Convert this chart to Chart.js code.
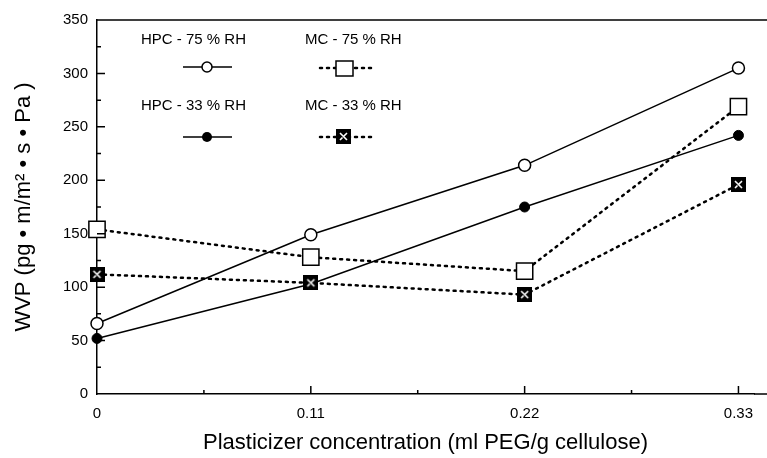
<!DOCTYPE html>
<html lang="en">
<head>
  <meta charset="UTF-8">
  <title>WVP vs plasticizer</title>
  <script src="https://cdn.jsdelivr.net/npm/chart.js"></script>
  <style>
    html, body { margin: 0; padding: 0; background: #fff; }
    #wrap { width: 767px; height: 458px; }
  </style>
</head>
<body>
  <div id="wrap"><canvas id="chart" width="767" height="458"></canvas></div>
  <script>
    // data
    const peg = [0, 0.11, 0.22, 0.33];
    const hpc75 = [66, 149, 214, 305];
    const hpc33 = [52, 103, 175, 242];
    const mc75 = [154, 128, 115, 269];
    const mc33 = [112, 104, 93, 196];
    const xTicks = [0, 0.11, 0.22, 0.33];
    const yTicks = [0, 50, 100, 150, 200, 250, 300, 350];

    const FONT = 'Liberation Sans, Arial, sans-serif';

    // filled square with white marks (MC - 33 % RH)
    function hatchSquare(size) {
      const c = document.createElement('canvas');
      c.width = size; c.height = size;
      const g = c.getContext('2d');
      g.fillStyle = '#000';
      g.fillRect(0, 0, size, size);
      g.strokeStyle = '#fff';
      g.lineWidth = 1.6;
      g.beginPath();
      g.moveTo(4, 4); g.lineTo(size - 4, size - 4);
      g.moveTo(size - 4, 4); g.lineTo(size / 2, size / 2);
      g.moveTo(4, size - 4); g.lineTo(size / 2 - 1, size / 2 + 1);
      g.stroke();
      return c;
    }
    const mcFilled = hatchSquare(15);

    function pts(vals) { return vals.map((v, i) => ({ x: peg[i], y: v })); }

    // ticks drawn inward, top border, and the 2x2 legend
    const frame = {
      id: 'frame',
      afterDraw(chart) {
        const ctx = chart.ctx;
        const x = chart.scales.x, y = chart.scales.y;
        const a = chart.chartArea;
        ctx.save();
        ctx.strokeStyle = '#000';
        ctx.lineWidth = 1.5;
        ctx.beginPath();
        // frame lines run on to the page edge as in the scan
        ctx.moveTo(a.left, a.top); ctx.lineTo(chart.width, a.top);
        ctx.moveTo(a.right, a.bottom); ctx.lineTo(chart.width, a.bottom);
        for (let v = 25; v < 350; v += 25) {
          const py = y.getPixelForValue(v);
          ctx.moveTo(a.left, py); ctx.lineTo(a.left + (v % 50 === 0 ? 8 : 4), py);
        }
        for (let v = 0.055; v < 0.34; v += 0.055) {
          const px = x.getPixelForValue(v);
          const major = Math.abs((v / 0.11) - Math.round(v / 0.11)) < 0.01;
          ctx.moveTo(px, a.bottom); ctx.lineTo(px, a.bottom - (major ? 8 : 4));
        }
        ctx.stroke();

        // legend
        ctx.fillStyle = '#000';
        ctx.font = '15px ' + FONT;
        ctx.textAlign = 'left';
        ctx.textBaseline = 'middle';
        ctx.fillText('HPC - 75 % RH', 141, 40);
        ctx.fillText('MC - 75 % RH', 305, 40);
        ctx.fillText('HPC - 33 % RH', 141, 106);
        ctx.fillText('MC - 33 % RH', 305, 106);

        ctx.lineWidth = 1.5;
        ctx.beginPath();
        ctx.moveTo(183, 67); ctx.lineTo(232, 67);
        ctx.moveTo(183, 137); ctx.lineTo(232, 137);
        ctx.stroke();
        ctx.beginPath();
        ctx.arc(207, 67, 5, 0, Math.PI * 2);
        ctx.fillStyle = '#fff'; ctx.fill(); ctx.stroke();
        ctx.beginPath();
        ctx.arc(207, 137, 5, 0, Math.PI * 2);
        ctx.fillStyle = '#000'; ctx.fill();

        ctx.setLineDash([2, 5]);
        ctx.lineCap = 'round';
        ctx.lineWidth = 2.5;
        ctx.beginPath();
        ctx.moveTo(320, 68); ctx.lineTo(376, 68);
        ctx.moveTo(320, 137); ctx.lineTo(376, 137);
        ctx.stroke();
        ctx.setLineDash([]);
        ctx.lineWidth = 1.5;
        ctx.fillStyle = '#fff';
        ctx.fillRect(336, 61, 17, 15);
        ctx.strokeRect(336, 61, 17, 15);
        ctx.drawImage(mcFilled, 336, 129);
        ctx.restore();
      }
    };

    const solid = { borderColor: '#000', borderWidth: 1.5, tension: 0, fill: false };
    const dotted = { borderColor: '#000', borderWidth: 2.5, borderDash: [2, 5], borderCapStyle: 'round', fill: false };

    new Chart(document.getElementById('chart'), {
      type: 'line',
      data: {
        datasets: [
          Object.assign({ label: 'MC - 75 % RH', data: pts(mc75), pointStyle: 'rect', pointRadius: 11.5,
            pointBackgroundColor: '#fff', pointBorderColor: '#000', pointBorderWidth: 1.5 }, dotted),
          Object.assign({ label: 'MC - 33 % RH', data: pts(mc33), pointStyle: mcFilled }, dotted),
          Object.assign({ label: 'HPC - 75 % RH', data: pts(hpc75), pointStyle: 'circle', pointRadius: 6,
            pointBackgroundColor: '#fff', pointBorderColor: '#000', pointBorderWidth: 1.5 }, solid),
          Object.assign({ label: 'HPC - 33 % RH', data: pts(hpc33), pointStyle: 'circle', pointRadius: 5,
            pointBackgroundColor: '#000', pointBorderColor: '#000', pointBorderWidth: 1 }, solid)
        ]
      },
      options: {
        responsive: false,
        animation: false,
        clip: false,
        layout: { padding: { top: 20, right: 0, left: 0, bottom: 0 } },
        plugins: { legend: { display: false }, tooltip: { enabled: false } },
        scales: {
          x: {
            type: 'linear', min: 0, max: 0.338,
            afterBuildTicks: s => { s.ticks = xTicks.map(v => ({ value: v })); },
            afterFit: s => { s.height = 64; },
            border: { color: '#000', width: 1.5 },
            grid: { display: false, drawTicks: false },
            ticks: { color: '#000', padding: 11, font: { family: FONT, size: 15 },
              callback: v => String(v) },
            title: { display: true, text: 'Plasticizer concentration (ml PEG/g cellulose)',
              color: '#000', font: { family: FONT, size: 22 }, padding: { top: 0, bottom: 2 } }
          },
          y: {
            min: 0, max: 350,
            afterBuildTicks: s => { s.ticks = yTicks.map(v => ({ value: v })); },
            afterFit: s => { s.width = 97; },
            border: { color: '#000', width: 1.5 },
            grid: { display: false, drawTicks: false },
            ticks: { color: '#000', padding: 9, font: { family: FONT, size: 15 } },
            title: { display: true, text: 'WVP (pg \u2022 m/m\u00b2 \u2022 s \u2022 Pa )',
              color: '#000', font: { family: FONT, size: 22 }, padding: { top: 11, bottom: 0 } }
          }
        }
      },
      plugins: [frame]
    });
  </script>
</body>
</html>
